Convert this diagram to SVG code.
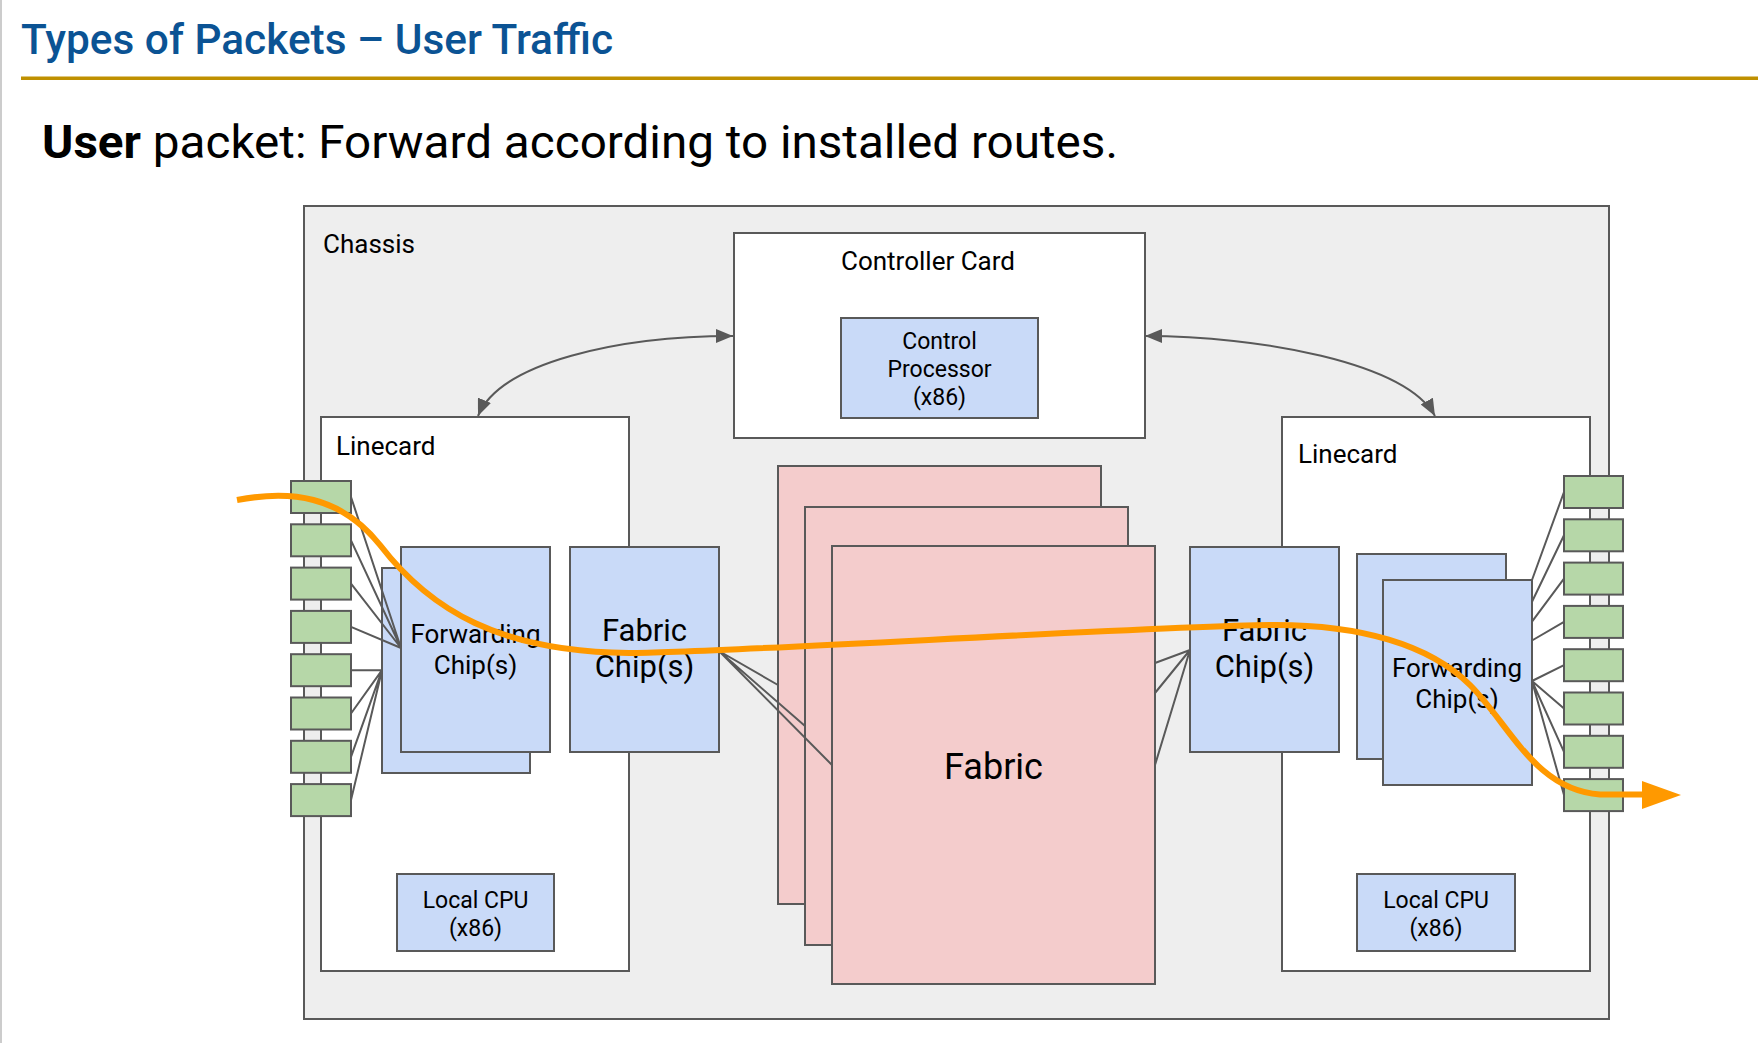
<svg xmlns="http://www.w3.org/2000/svg" width="1758" height="1043" viewBox="0 0 1758 1043">
<style>
text{font-family:Roboto,"Liberation Sans",sans-serif;fill:#000}
.box{stroke:#595959;stroke-width:2}
.chassis{fill:#eeeeee}
.white{fill:#ffffff}
.blue{fill:#c9daf8}
.green{fill:#b6d7a8}
.pink{fill:#f4cccc}
.lbl{font-size:26px}
.sm{font-size:23px;text-anchor:middle}
.fwd{font-size:26px;text-anchor:middle}
.fab{font-size:31px;text-anchor:middle}
.wire{stroke:#595959;stroke-width:2;fill:none}
</style>
<defs>
<marker id="ah" markerUnits="userSpaceOnUse" markerWidth="18" markerHeight="14" refX="17" refY="7" orient="auto-start-reverse" viewBox="0 0 18 14">
<path d="M0,0 L17,7 L0,14 z" fill="#595959"/>
</marker>
</defs>
<rect x="0" y="0" width="1758" height="1043" fill="#ffffff"/>
<rect x="0" y="0" width="2" height="1043" fill="#cccccc"/>
<g id="header">
<text x="21" y="54" textLength="592" lengthAdjust="spacingAndGlyphs" style="font-size:42px;font-weight:500;fill:#0b5394">Types of Packets – User Traffic</text>
<rect x="21" y="76.5" width="1737" height="3.5" fill="#bf9000"/>
<text x="42" y="158" textLength="1076" lengthAdjust="spacingAndGlyphs" style="font-size:46px"><tspan font-weight="700">User</tspan> packet: Forward according to installed routes.</text>
</g>
<g id="chassis">
<rect class="box chassis" x="304" y="206" width="1305" height="813"/>
<text class="lbl" x="323" y="253">Chassis</text>
</g>
<g id="linecard-left">
<rect class="box white" x="321" y="417" width="308" height="554"/>
<text class="lbl" x="336" y="455">Linecard</text>
</g>
<g id="linecard-right">
<rect class="box white" x="1282" y="417" width="308" height="554"/>
<text class="lbl" x="1298" y="463">Linecard</text>
</g>
<g id="controller-card">
<rect class="box white" x="734" y="233" width="411" height="205"/>
<text class="lbl" x="928" y="270" text-anchor="middle">Controller Card</text>
</g>
<g id="control-processor">
<rect class="box blue" x="841" y="318" width="197" height="100"/>
<text class="sm" x="939.5" y="349">Control</text>
<text class="sm" x="939.5" y="377">Processor</text>
<text class="sm" x="939.5" y="405">(x86)</text>
</g>
<g id="fabric">
<rect class="box pink" x="778" y="466" width="323" height="438"/>
<rect class="box pink" x="805" y="507" width="323" height="438"/>
<rect class="box pink" x="832" y="546" width="323" height="438"/>
<text x="993.5" y="779" style="font-size:36px;text-anchor:middle">Fabric</text>
</g>
<g id="forwarding-left">
<rect class="box blue" x="382" y="568" width="148" height="205"/>
<rect class="box blue" x="401" y="547" width="149" height="205"/>
<text class="fwd" x="475.5" y="643">Forwarding</text>
<text class="fwd" x="475.5" y="674">Chip(s)</text>
</g>
<g id="fabric-chip-left">
<rect class="box blue" x="570" y="547" width="149" height="205"/>
<text class="fab" x="644.5" y="641">Fabric</text>
<text class="fab" x="644.5" y="677">Chip(s)</text>
</g>
<g id="fabric-chip-right">
<rect class="box blue" x="1190" y="547" width="149" height="205"/>
<text class="fab" x="1264.5" y="641">Fabric</text>
<text class="fab" x="1264.5" y="677">Chip(s)</text>
</g>
<g id="forwarding-right">
<rect class="box blue" x="1357" y="554" width="149" height="205"/>
<rect class="box blue" x="1383" y="580" width="149" height="205"/>
<text class="fwd" x="1457" y="677">Forwarding</text>
<text class="fwd" x="1457" y="707.5">Chip(s)</text>
</g>
<g id="local-cpu-left">
<rect class="box blue" x="397" y="874" width="157" height="77"/>
<text class="sm" x="475.5" y="907.5">Local CPU</text>
<text class="sm" x="475.5" y="935.5">(x86)</text>
</g>
<g id="local-cpu-right">
<rect class="box blue" x="1357" y="874" width="158" height="77"/>
<text class="sm" x="1436" y="907.5">Local CPU</text>
<text class="sm" x="1436" y="935.5">(x86)</text>
</g>
<g id="ports-left">
<rect class="box green" x="291" y="481" width="60" height="32"/>
<rect class="box green" x="291" y="524.3" width="60" height="32"/>
<rect class="box green" x="291" y="567.6" width="60" height="32"/>
<rect class="box green" x="291" y="610.9" width="60" height="32"/>
<rect class="box green" x="291" y="654.2" width="60" height="32"/>
<rect class="box green" x="291" y="697.5" width="60" height="32"/>
<rect class="box green" x="291" y="740.8" width="60" height="32"/>
<rect class="box green" x="291" y="784.1" width="60" height="32"/>
</g>
<g id="ports-right">
<rect class="box green" x="1564" y="476" width="59" height="32"/>
<rect class="box green" x="1564" y="519.3" width="59" height="32"/>
<rect class="box green" x="1564" y="562.6" width="59" height="32"/>
<rect class="box green" x="1564" y="605.9" width="59" height="32"/>
<rect class="box green" x="1564" y="649.2" width="59" height="32"/>
<rect class="box green" x="1564" y="692.5" width="59" height="32"/>
<rect class="box green" x="1564" y="735.8" width="59" height="32"/>
<rect class="box green" x="1564" y="779.1" width="59" height="32"/>
</g>
<g id="connectors">
<path class="wire" d="M351 497 L401 648 M351 540.3 L401 648 M351 583.6 L401 648 M351 626.9 L401 648"/>
<path class="wire" d="M351 670.2 L382 670.2 M351 713.5 L382 670.2 M351 756.8 L382 670.2 M351 800.1 L382 670.2"/>
<path class="wire" d="M719 651 L778 685 M719 651 L805 726 M719 651 L832 765"/>
<path class="wire" d="M1155 663 L1190 650 M1155 693 L1190 650 M1155 765 L1190 650"/>
<path class="wire" d="M1564 492 L1532 580 M1564 535.3 L1532 601.7 M1564 578.6 L1532 621.7 M1564 621.9 L1532 640.5"/>
<path class="wire" d="M1564 665.2 L1532 681 M1564 708.5 L1532 681 M1564 751.8 L1532 681 M1564 795.1 L1532 681"/>
<path class="wire" d="M733 336 C620 336 500 362 478 416" marker-start="url(#ah)" marker-end="url(#ah)"/>
<path class="wire" d="M1145 336 C1258 336 1405 362 1435 416" marker-start="url(#ah)" marker-end="url(#ah)"/>
</g>
<g id="traffic-path">
<path d="M237 500 C290 490 340 495 380 545 C430 610 500 652 629 653 C720 653 1150 626 1270 625 C1360 624 1430 645 1470 685 C1510 725 1535 790 1600 794.5 L1645 794.5" fill="none" stroke="#ff9900" stroke-width="6"/>
<polygon points="1642,781 1681,795 1642,809" fill="#ff9900"/>
</g>
</svg>
